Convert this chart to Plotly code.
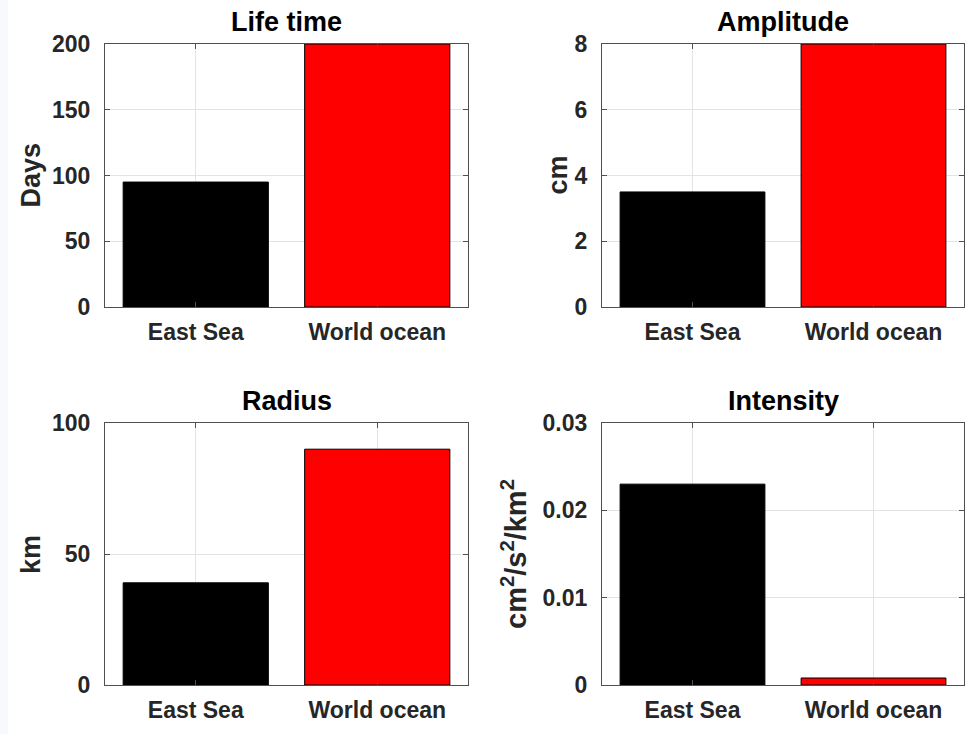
import plotly.graph_objects as go

# Eddy statistics: East Sea vs. world ocean
categories = ["East Sea", "World ocean"]
bar_colors = ["#000000", "#ff0000"]

lifetime_days = [95, 200]
amplitude_cm = [3.5, 8]
radius_km = [39, 90]
intensity = [0.023, 0.0008]

panel_titles = ["Life time", "Amplitude", "Radius", "Intensity"]
y_labels = ["Days", "cm", "km", "cm<sup>2</sup>/s<sup>2</sup>/km<sup>2</sup>"]
y_ranges = [[0, 200], [0, 8], [0, 100], [0, 0.03]]
y_tickvals = [
    [0, 50, 100, 150, 200],
    [0, 2, 4, 6, 8],
    [0, 50, 100],
    [0, 0.01, 0.02, 0.03],
]
y_ticktext = [
    ["0", "50", "100", "150", "200"],
    ["0", "2", "4", "6", "8"],
    ["0", "50", "100"],
    ["0", "0.01", "0.02", "0.03"],
]
series = [lifetime_days, amplitude_cm, radius_km, intensity]

W, H = 969, 734
# plot-area boxes in pixels: (left, right, top, bottom)
boxes = [
    (105, 468, 44, 307),
    (602, 964, 44, 307),
    (105, 468, 423, 685),
    (602, 964, 423, 685),
]
label_x_px = [30, 557, 31, 514]
label_size = [27, 27, 27, 29]

FONT = "Liberation Sans, Arial, Helvetica, sans-serif"
TICK_COLOR = "#262626"
FRAME = "#505050"

fig = go.Figure()

for i, (vals, box) in enumerate(zip(series, boxes)):
    n = i + 1
    suffix = "" if n == 1 else str(n)
    xa, ya = "x" + suffix, "y" + suffix
    fig.add_trace(go.Bar(
        x=[1, 2], y=vals, width=0.8,
        marker=dict(color=bar_colors, line=dict(color="#000000", width=1)),
        xaxis=xa, yaxis=ya, showlegend=False, hoverinfo="skip",
    ))
    l, r, t, b = box
    xdom = [l / W, r / W]
    ydom = [1 - b / H, 1 - t / H]
    axis_common = dict(
        showline=True, linecolor=FRAME, linewidth=1.2, mirror="allticks",
        ticks="inside", ticklen=5, tickcolor=FRAME,
        showgrid=True, gridcolor="#e3e3e3", gridwidth=1,
        zeroline=False, fixedrange=True, automargin=False,
        tickfont=dict(family=FONT, size=23, color=TICK_COLOR, weight="bold"),
    )
    fig.layout["xaxis" + suffix] = dict(
        domain=xdom, anchor=ya, range=[0.5, 2.5],
        tickvals=[1, 2], ticktext=categories, ticklabelstandoff=4, **axis_common,
    )
    fig.layout["yaxis" + suffix] = dict(
        domain=ydom, anchor=xa, range=y_ranges[i],
        tickvals=y_tickvals[i], ticktext=y_ticktext[i], ticklabelstandoff=9,
        **axis_common,
    )
    # panel title
    fig.add_annotation(
        x=(l + r) / 2 / W, y=1 - (t - 22) / H, xref="paper", yref="paper",
        text=panel_titles[i], showarrow=False, xanchor="center", yanchor="middle",
        font=dict(family=FONT, size=27, color="#000000", weight="bold"),
    )
    # y-axis label
    fig.add_annotation(
        x=label_x_px[i] / W, y=1 - (t + b) / 2 / H, xref="paper", yref="paper",
        text=y_labels[i], showarrow=False, textangle=-90,
        xanchor="center", yanchor="middle",
        font=dict(family=FONT, size=label_size[i], color=TICK_COLOR, weight="bold"),
    )

# pale strip along the left edge
fig.add_shape(type="rect", xref="paper", yref="paper", x0=0, x1=8 / W, y0=0, y1=1,
              fillcolor="#f7f9fc", line=dict(width=0), layer="below")

fig.update_layout(
    width=W, height=H,
    margin=dict(l=0, r=0, t=0, b=0, autoexpand=False),
    paper_bgcolor="#ffffff", plot_bgcolor="#ffffff",
    bargap=0.2,
)

fig.write_html("out.html", config={"displayModeBar": False})
